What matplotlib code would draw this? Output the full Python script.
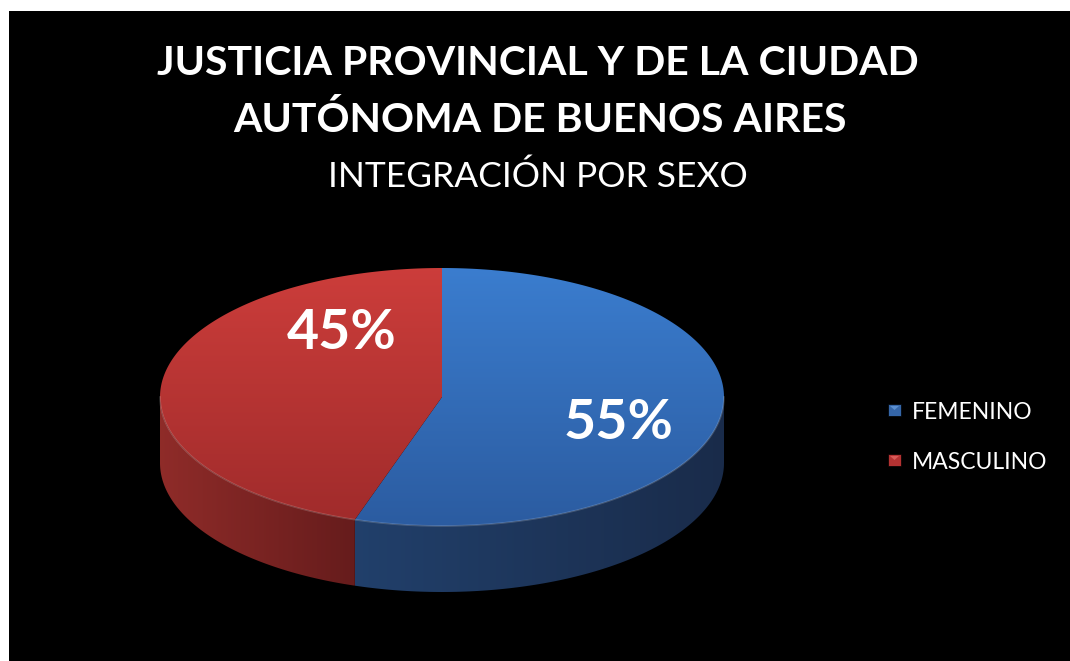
import numpy as np
import matplotlib
matplotlib.use('Agg')
import matplotlib.pyplot as plt
from matplotlib.patches import Polygon, Rectangle

# data
labels = ['FEMENINO', 'MASCULINO']
values = [55, 45]
pct_labels = ['55%', '45%']
title_lines = ['JUSTICIA PROVINCIAL Y DE LA CIUDAD', 'AUTÓNOMA DE BUENOS AIRES']
subtitle = 'INTEGRACIÓN POR SEXO'

# style
top_colors = [((0.23, 0.49, 0.81), (0.17, 0.36, 0.63)),   # blue: top -> bottom
              ((0.80, 0.24, 0.23), (0.63, 0.17, 0.17))]   # red
side_colors = [((0.13, 0.25, 0.42), (0.10, 0.17, 0.29)),  # left -> right
               ((0.56, 0.17, 0.16), (0.40, 0.11, 0.11))]
legend_colors = ['#3566a8', '#b33232']
legend_light = ['#5b8fd0', '#d85a58']
label_offsets = [(176, 26), (-100, -64)]   # from pie centre, px

W, H = 1070, 661
cx, cy, rx, ry, depth = 442, 397, 282, 129, 66
font = 'Lato'

fig = plt.figure(figsize=(W / 100, H / 100), dpi=100)
fig.patch.set_facecolor('white')
ax = fig.add_axes([0, 0, 1, 1])
ax.set_xlim(0, W)
ax.set_ylim(H, 0)
ax.axis('off')

ax.add_patch(Rectangle((9, 11), W - 9, H - 11, facecolor='black', edgecolor='none', zorder=0))


def ell(t):
    t = np.radians(t)
    return np.column_stack([cx + rx * np.cos(t), cy - ry * np.sin(t)])


def grad_fill(verts, c0, c1, vertical=True, z=2):
    poly = Polygon(verts, closed=True, facecolor='none', edgecolor='none')
    ax.add_patch(poly)
    x0, x1 = verts[:, 0].min(), verts[:, 0].max()
    y0, y1 = verts[:, 1].min(), verts[:, 1].max()
    t = np.linspace(0, 1, 256)
    c0, c1 = np.array(c0), np.array(c1)
    grad = c0 + (c1 - c0) * t[:, None]
    if vertical:
        img = grad[:, None, :].repeat(2, axis=1)
    else:
        img = grad[None, :, :].repeat(2, axis=0)
    im = ax.imshow(img, extent=(x0, x1, y1, y0), origin='upper', aspect='auto',
                   zorder=z, interpolation='bilinear')
    im.set_clip_path(poly)


# slice angles: start at 12 o'clock, go clockwise
total = sum(values)
angles = []
start = 90.0
for v in values:
    sweep = 360.0 * v / total
    angles.append((start - sweep, start))
    start -= sweep

for i, (a0, a1) in enumerate(angles):
    # front wall: visible part of the slice between 180 and 360 deg
    lo, hi = a0 % 360, a1 % 360
    if hi <= lo:
        hi += 360
    s0, s1 = max(lo, 180), min(hi, 360)
    if s1 > s0:
        t = np.linspace(s0, s1, 120)
        top = ell(t)
        bot = top + [0, depth]
        verts = np.vstack([top, bot[::-1]])
        grad_fill(verts, side_colors[i][0], side_colors[i][1], vertical=False, z=2)
    # top face
    t = np.linspace(a0, a1, 200)
    verts = np.vstack([[cx, cy], ell(t)])
    grad_fill(verts, top_colors[i][0], top_colors[i][1], vertical=True, z=3)

# light rim along the front edge
rim = ell(np.linspace(180, 360, 200))
ax.plot(rim[:, 0], rim[:, 1], color='white', alpha=0.18, lw=1.2, zorder=4)

for i, lab in enumerate(pct_labels):
    dx, dy = label_offsets[i]
    ax.text(cx + dx, cy + dy, lab, color='white', fontsize=40, fontweight='bold',
            family=font, ha='center', va='center', zorder=6)

# titles
ax.text(538, 75, title_lines[0], color='white', fontsize=29.5, fontweight='bold',
        family=font, ha='center', va='baseline')
ax.text(540, 132, title_lines[1], color='white', fontsize=29.5, fontweight='bold',
        family=font, ha='center', va='baseline')
ax.text(538, 187, subtitle, color='white', fontsize=25.5, family=font,
        ha='center', va='baseline')

# legend
for i, lab in enumerate(labels):
    y = 404 + i * 50
    ax.add_patch(Rectangle((888, y), 13, 12, facecolor=legend_colors[i],
                           edgecolor='black', lw=0.5, zorder=5))
    ax.add_patch(Polygon([[890, y + 2], [899, y + 2], [894.5, y + 6]], closed=True,
                         facecolor=legend_light[i], edgecolor='none', zorder=6))
    ax.text(912, y + 15, lab, color='white', fontsize=16.5, family=font,
            ha='left', va='baseline')

fig.savefig('out.png', dpi=100, facecolor=fig.get_facecolor())
